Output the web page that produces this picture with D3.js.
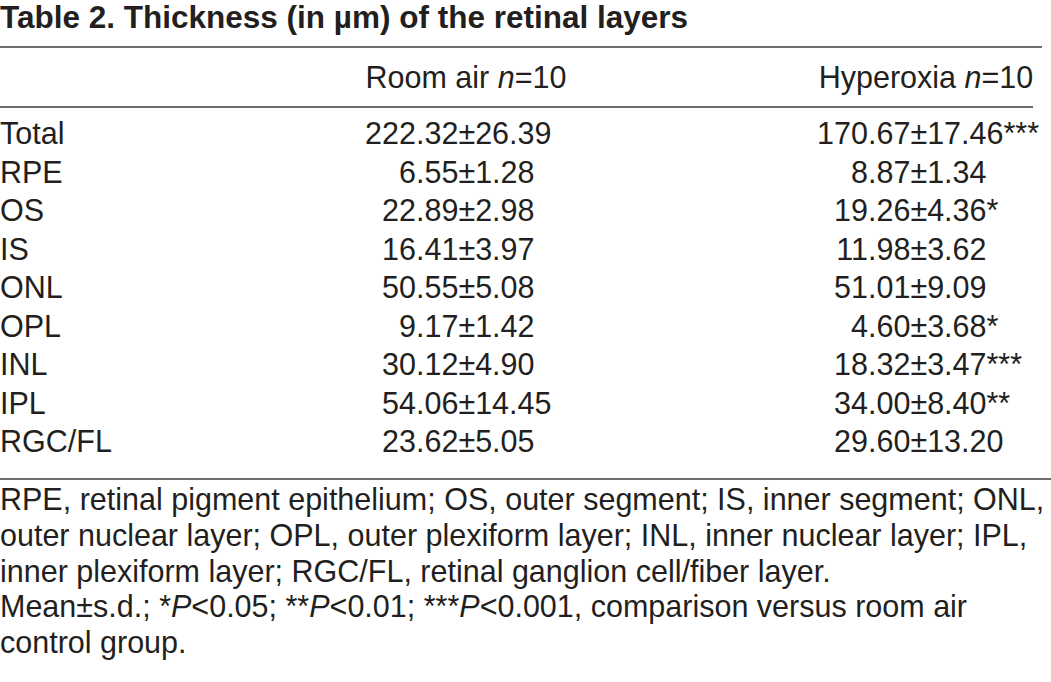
<!DOCTYPE html>
<html>
<head>
<meta charset="utf-8">
<script src="https://cdn.jsdelivr.net/npm/d3@7"></script>
<style>
  html, body { margin: 0; padding: 0; background: #fff; }
  svg { display: block; }
  text { font-family: "Liberation Sans", Arial, sans-serif; fill: #231f20; }
</style>
</head>
<body>
<svg id="chart" width="1051" height="682"></svg>
<script>
const title = "Table 2. Thickness (in µm) of the retinal layers";
const groups = ["Room air", "Hyperoxia"];
const groupN = [10, 10];
const layers = ["Total", "RPE", "OS", "IS", "ONL", "OPL", "INL", "IPL", "RGC/FL"];
const roomAirMean = [222.32, 6.55, 22.89, 16.41, 50.55, 9.17, 30.12, 54.06, 23.62];
const roomAirSD   = [26.39, 1.28, 2.98, 3.97, 5.08, 1.42, 4.90, 14.45, 5.05];
const hyperMean   = [170.67, 8.87, 19.26, 11.98, 51.01, 4.60, 18.32, 34.00, 29.60];
const hyperSD     = [17.46, 1.34, 4.36, 3.62, 9.09, 3.68, 3.47, 8.40, 13.20];
const hyperSig    = ["***", "", "*", "", "", "*", "***", "**", ""];
const footnotes = [
  [["RPE, retinal pigment epithelium; OS, outer segment; IS, inner segment; ONL,", false]],
  [["outer nuclear layer; OPL, outer plexiform layer; INL, inner nuclear layer; IPL,", false]],
  [["inner plexiform layer; RGC/FL, retinal ganglion cell/fiber layer.", false]],
  [["Mean±s.d.; *", false], ["P", true], ["<0.05; **", false], ["P", true], ["<0.01; ***", false], ["P", true], ["<0.001, comparison versus room air", false]],
  [["control group.", false]]
];

const svg = d3.select("#chart");
const fs = 30.5;
const fmt = d3.format(".2f");

// title
svg.append("text").attr("x", 0).attr("y", 28)
  .attr("font-size", 31.5).attr("font-weight", "bold").text(title);

// rules
const rule = (y, x2) => svg.append("line").attr("x1", 0).attr("x2", x2)
  .attr("y1", y).attr("y2", y).attr("stroke", "#6d6e70").attr("stroke-width", 1.8);
rule(47, 1042);
rule(107, 1033);
rule(479, 1051);

// column positions (decimal alignment points)
const colDec = d3.scaleOrdinal().domain(groups).range([416, 868]);
const colHead = d3.scaleOrdinal().domain(groups).range([466, 926]);

// header
groups.forEach((g, i) => {
  const t = svg.append("text").attr("x", colHead(g)).attr("y", 88)
    .attr("font-size", fs).attr("text-anchor", "middle");
  t.append("tspan").text(g + " ");
  t.append("tspan").attr("font-style", "italic").text("n");
  t.append("tspan").text("=" + groupN[i]);
});

// rows
const y = d3.scalePoint().domain(layers).range([144, 452]);

const rows = svg.append("g").selectAll("g").data(layers).join("g")
  .attr("transform", d => `translate(0,${y(d)})`);

rows.append("text").attr("x", 0).attr("font-size", fs).text(d => d);

const cells = [
  {g: groups[0], mean: roomAirMean, sd: roomAirSD, sig: layers.map(() => "")},
  {g: groups[1], mean: hyperMean, sd: hyperSD, sig: hyperSig}
];
cells.forEach(c => {
  rows.each(function(d, i) {
    const s = fmt(c.mean[i]);
    const [ip, dp] = s.split(".");
    const r = d3.select(this);
    r.append("text").attr("x", colDec(c.g)).attr("font-size", fs)
      .attr("text-anchor", "end").text(ip);
    r.append("text").attr("x", colDec(c.g)).attr("font-size", fs)
      .text("." + dp + "±" + fmt(c.sd[i]) + c.sig[i]);
  });
});

// footnotes
const fy = d3.scaleLinear().domain([0, footnotes.length - 1]).range([510, 653]);
footnotes.forEach((line, i) => {
  const t = svg.append("text").attr("x", 0).attr("y", fy(i)).attr("font-size", fs);
  line.forEach(([s, it]) => {
    const sp = t.append("tspan").text(s);
    if (it) sp.attr("font-style", "italic");
  });
});
</script>
</body>
</html>
